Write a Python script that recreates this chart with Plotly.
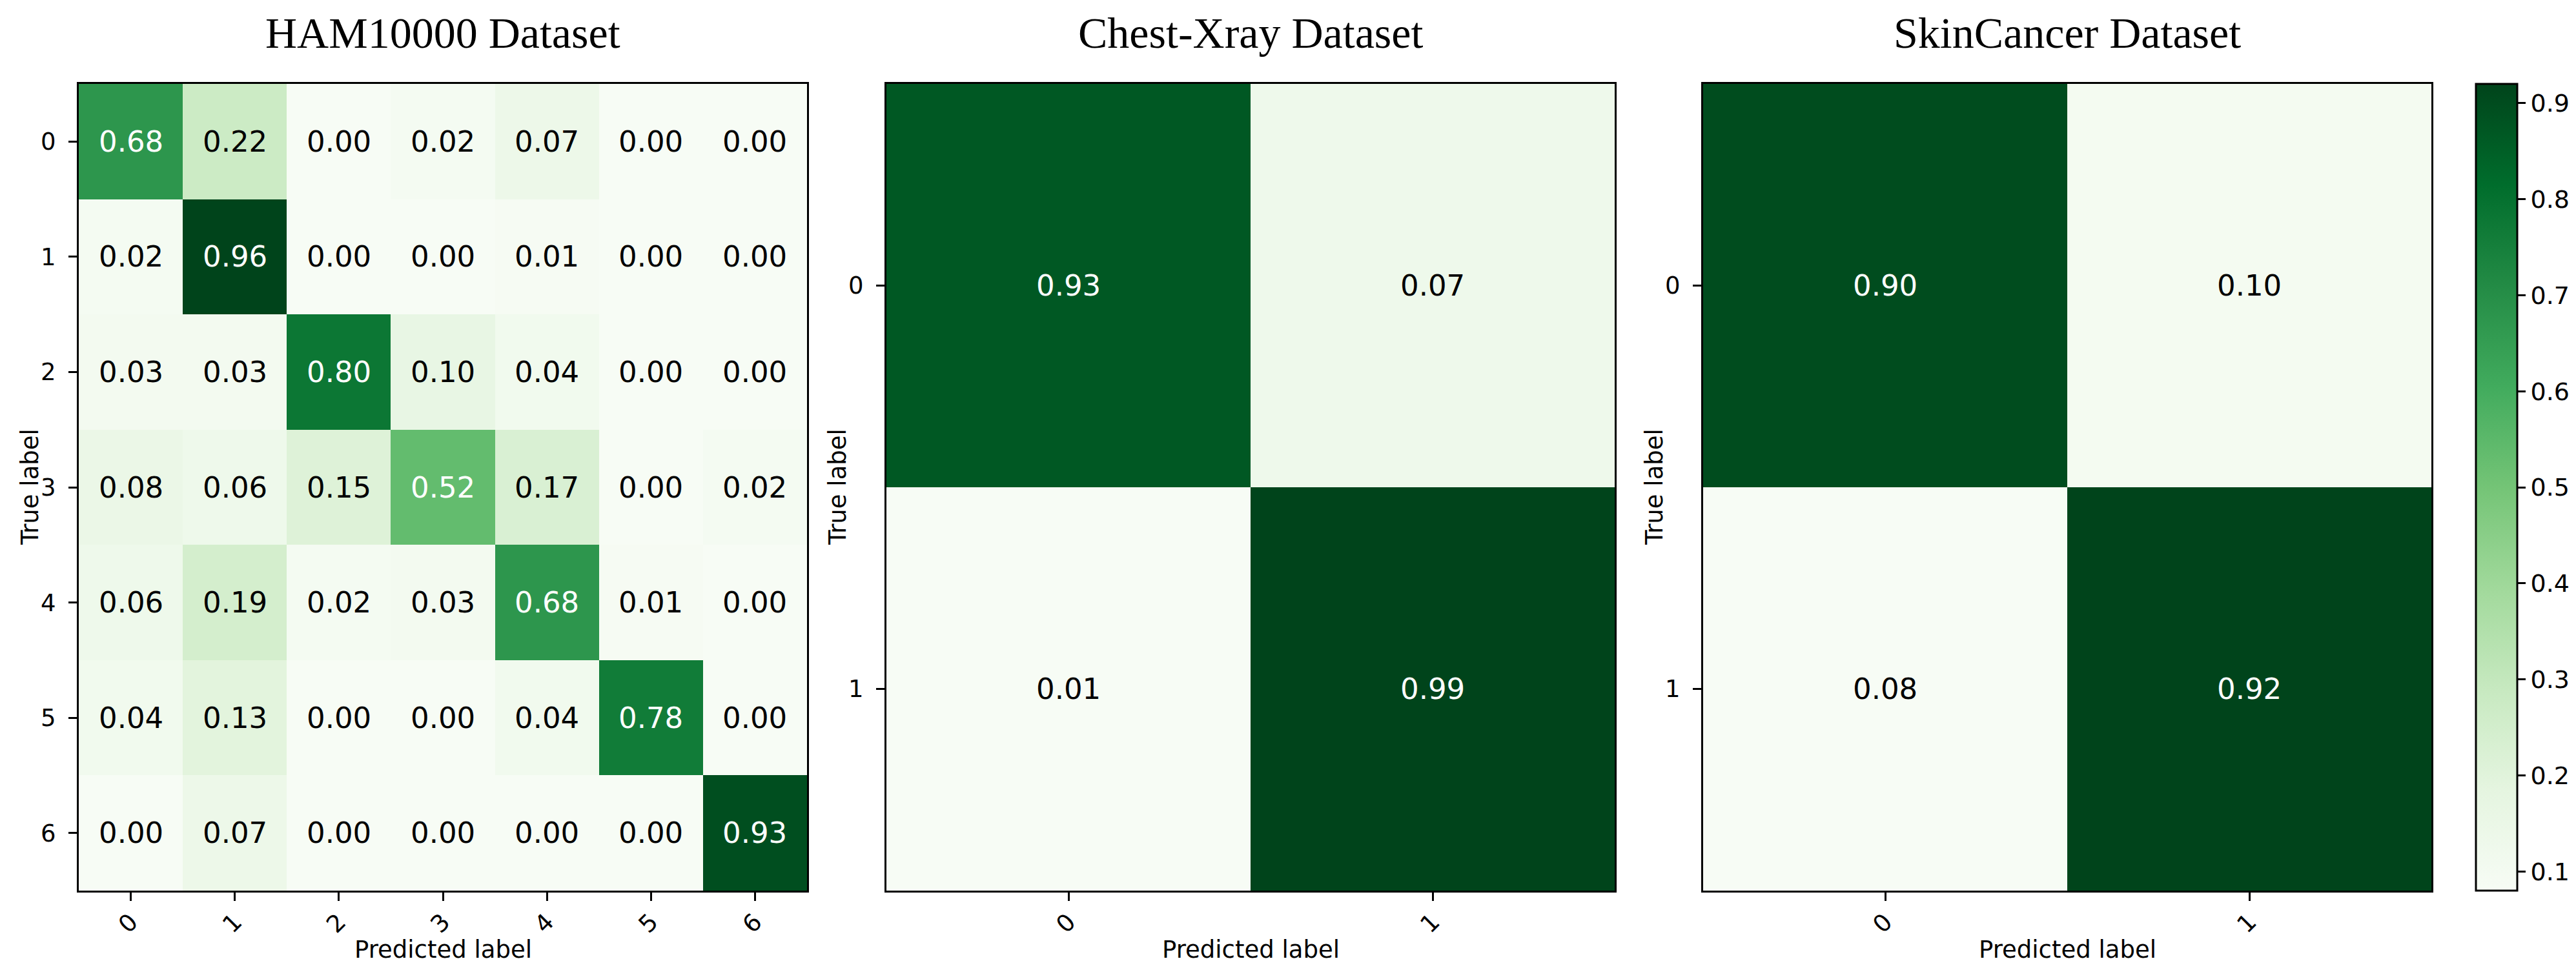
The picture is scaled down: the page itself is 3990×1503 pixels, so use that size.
import plotly.graph_objects as go

# ---------------- data ----------------
titles = ["HAM10000 Dataset", "Chest-Xray Dataset", "SkinCancer Dataset"]

ham_labels = ["0", "1", "2", "3", "4", "5", "6"]
ham_values = [
    [0.68, 0.22, 0.00, 0.02, 0.07, 0.00, 0.00],
    [0.02, 0.96, 0.00, 0.00, 0.01, 0.00, 0.00],
    [0.03, 0.03, 0.80, 0.10, 0.04, 0.00, 0.00],
    [0.08, 0.06, 0.15, 0.52, 0.17, 0.00, 0.02],
    [0.06, 0.19, 0.02, 0.03, 0.68, 0.01, 0.00],
    [0.04, 0.13, 0.00, 0.00, 0.04, 0.78, 0.00],
    [0.00, 0.07, 0.00, 0.00, 0.00, 0.00, 0.93],
]

chest_labels = ["0", "1"]
chest_values = [
    [0.93, 0.07],
    [0.01, 0.99],
]

skin_labels = ["0", "1"]
skin_values = [
    [0.90, 0.10],
    [0.08, 0.92],
]

colorbar_ticks = [0.1, 0.2, 0.3, 0.4, 0.5, 0.6, 0.7, 0.8, 0.9]

x_title = "Predicted label"
y_title = "True label"

# ---------------- styling ----------------
W, H = 3990, 1503
greens = ["#f7fcf5", "#e5f5e0", "#c7e9c0", "#a1d99b", "#74c476",
          "#41ab5d", "#238b45", "#006d2c", "#00441b"]
colorscale = [[i / (len(greens) - 1), c] for i, c in enumerate(greens)]

panels_px = [(114, 1242), (1365, 2493), (2630, 3758)]
top_px, bottom_px = 122, 1372
y_dom = [1 - bottom_px / H, 1 - top_px / H]

SANS = "DejaVu Sans"
SERIF = "Liberation Serif, Times New Roman, serif"

fig = go.Figure()
datasets = [(ham_labels, ham_values), (chest_labels, chest_values), (skin_labels, skin_values)]
annotations = []

for k, ((labels, vals), title, (x0, x1)) in enumerate(zip(datasets, titles, panels_px)):
    n = len(labels)
    flat = [v for row in vals for v in row]
    zmin, zmax = min(flat), max(flat)
    xa = "x" if k == 0 else f"x{k+1}"
    ya = "y" if k == 0 else f"y{k+1}"
    show_cb = (k == len(datasets) - 1)
    fig.add_trace(go.Heatmap(
        z=vals, x=list(range(n)), y=list(range(n)),
        colorscale=colorscale, zmin=zmin, zmax=zmax,
        showscale=show_cb, xaxis=xa, yaxis=ya, hoverinfo="skip",
        colorbar=dict(
            x=3827 / W, xanchor="left", xref="paper",
            y=(y_dom[0] + y_dom[1]) / 2, yanchor="middle",
            len=(bottom_px - top_px) / H, lenmode="fraction",
            thickness=64, thicknessmode="pixels",
            outlinewidth=3, outlinecolor="black",
            tickvals=colorbar_ticks, ticktext=[f"{t:.1f}" for t in colorbar_ticks],
            ticks="outside", ticklen=12, tickwidth=3, tickcolor="black",
            tickfont=dict(family=SANS, size=38, color="black"),
            ypad=0, xpad=0,
        ) if show_cb else None,
    ))
    thresh = zmax / 2
    for i in range(n):
        for j in range(n):
            v = vals[i][j]
            annotations.append(dict(
                x=j, y=i, xref=xa, yref=ya, text=f"{v:.2f}", showarrow=False,
                font=dict(family=SANS, size=45, color="white" if v > thresh else "black"),
            ))
    axis_common = dict(
        showline=True, linewidth=3, linecolor="black", mirror=True,
        ticks="outside", ticklen=13, tickwidth=3, tickcolor="black",
        showgrid=False, zeroline=False,
        tickfont=dict(family=SANS, size=37, color="black"),
    )
    fig.layout[("xaxis" if k == 0 else f"xaxis{k+1}")] = dict(
        domain=[x0 / W, x1 / W], anchor=ya, range=[-0.5, n - 0.5],
        tickvals=list(range(n)), ticktext=labels, tickangle=-45,
        ticklabelstandoff=-4, **axis_common)
    fig.layout[("yaxis" if k == 0 else f"yaxis{k+1}")] = dict(
        domain=y_dom, anchor=xa, range=[n - 0.5, -0.5],
        tickvals=list(range(n)), ticktext=labels,
        ticklabelstandoff=12, **axis_common)
    cx = (x0 + x1) / 2 / W
    annotations.append(dict(
        x=cx, y=1 - 43 / H, xref="paper", yref="paper", text=title, showarrow=False,
        xanchor="center", yanchor="middle",
        font=dict(family=SERIF, size=68, color="black")))
    annotations.append(dict(
        x=cx, y=1 - 1463 / H, xref="paper", yref="paper", text=x_title, showarrow=False,
        xanchor="center", yanchor="middle",
        font=dict(family=SANS, size=37, color="black")))
    annotations.append(dict(
        x=(x0 - 76) / W, y=(y_dom[0] + y_dom[1]) / 2, xref="paper", yref="paper",
        text=y_title, showarrow=False, textangle=-90,
        xanchor="center", yanchor="middle",
        font=dict(family=SANS, size=37, color="black")))

fig.update_layout(
    width=W, height=H, margin=dict(l=0, r=0, t=0, b=0),
    paper_bgcolor="white", plot_bgcolor="white",
    annotations=annotations, showlegend=False,
)

fig.write_html("out.html")
